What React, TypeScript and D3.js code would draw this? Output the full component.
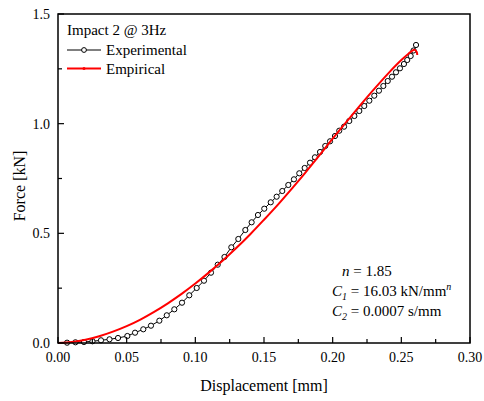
import React from "react";
import * as d3 from "d3";

const expX = [0.0066,0.0127,0.0189,0.0251,0.0313,0.0375,0.0437,0.0505,0.0561,0.0621,0.0677,0.0738,0.0792,0.0847,0.0903,0.0956,0.1010,0.1063,0.1114,0.1163,0.1212,0.1262,0.1313,0.1364,0.1410,0.1456,0.1502,0.1549,0.1592,0.1633,0.1677,0.1718,0.1757,0.1796,0.1835,0.1871,0.1908,0.1946,0.1981,0.2017,0.2048,0.2083,0.2121,0.2158,0.2194,0.2230,0.2267,0.2303,0.2337,0.2369,0.2401,0.2432,0.2461,0.2490,0.2519,0.2543,0.2568,0.2589,0.2607];
const expF = [0.0014,0.0032,0.0046,0.0078,0.0123,0.0169,0.0228,0.0319,0.0470,0.0625,0.0789,0.1017,0.1263,0.1536,0.1837,0.2175,0.2508,0.2840,0.3205,0.3570,0.3921,0.4363,0.4742,0.5152,0.5503,0.5836,0.6123,0.6415,0.6670,0.6930,0.7204,0.7463,0.7737,0.7979,0.8220,0.8467,0.8708,0.8982,0.9196,0.9438,0.9679,0.9862,1.0122,1.0350,1.0578,1.0805,1.1047,1.1275,1.1503,1.1717,1.1945,1.2141,1.2342,1.2524,1.2720,1.2903,1.3085,1.3336,1.3587];

const empX = [0,0.01,0.02,0.03,0.04,0.05,0.06,0.07,0.08,0.09,0.10,0.11,0.12,0.13,0.14,0.15,0.16,0.17,0.18,0.19,0.20,0.21,0.22,0.23,0.24,0.25,0.255,0.2595,0.2612,0.2616];
const empF = [0,0.005,0.015,0.031,0.052,0.077,0.107,0.142,0.181,0.224,0.271,0.322,0.376,0.434,0.496,0.562,0.630,0.702,0.776,0.853,0.932,1.008,1.083,1.156,1.226,1.290,1.318,1.337,1.327,1.313];

const xMajor = [0, 0.05, 0.1, 0.15, 0.2, 0.25, 0.3];
const xMinor = [0.025, 0.075, 0.125, 0.175, 0.225, 0.275];
const yMajor = [0, 0.5, 1.0, 1.5];
const yMinor = [0.25, 0.75, 1.25];

const W = 484, H = 401;
const L = 58, R = 470, T = 14, B = 343;
const font = "'Liberation Serif', 'Times New Roman', serif";

export default function App() {
  const x = d3.scaleLinear().domain([0, 0.3]).range([L, R]);
  const y = d3.scaleLinear().domain([0, 1.5]).range([B, T]);
  const expPts = expX.map((v, i) => [v, expF[i]] as [number, number]);
  const empPts = empX.map((v, i) => [v, empF[i]] as [number, number]);
  const lineLin = d3.line<[number, number]>().x(d => x(d[0])).y(d => y(d[1]));
  const lineCurve = d3.line<[number, number]>().x(d => x(d[0])).y(d => y(d[1])).curve(d3.curveCatmullRom);

  return (
    <svg width={W} height={H} style={{ position: "absolute", left: 0, top: 0 }} fontFamily={font}>
      <rect x={0} y={0} width={W} height={H} fill="#fff" />
      <path d={lineLin(expPts) || ""} fill="none" stroke="#000" strokeWidth={1} />
      {expPts.map((d, i) => (
        <circle key={i} cx={x(d[0])} cy={y(d[1])} r={2.6} fill="#fff" stroke="#000" strokeWidth={1} />
      ))}
      <path d={lineCurve(empPts) || ""} fill="none" stroke="#ff0000" strokeWidth={2} />
      <rect x={L} y={T} width={R - L} height={B - T} fill="none" stroke="#000" strokeWidth={1.5} />
      {xMajor.map((v, i) => (
        <g key={"xM" + i}>
          <line x1={x(v)} x2={x(v)} y1={B} y2={B - 6} stroke="#000" strokeWidth={1.2} />
          <text x={x(v)} y={362} fontSize={14} textAnchor="middle">{v.toFixed(2)}</text>
        </g>
      ))}
      {xMinor.map((v, i) => (
        <line key={"xm" + i} x1={x(v)} x2={x(v)} y1={B} y2={B - 4} stroke="#000" strokeWidth={1.2} />
      ))}
      {yMajor.map((v, i) => (
        <g key={"yM" + i}>
          <line x1={L} x2={L + 6} y1={y(v)} y2={y(v)} stroke="#000" strokeWidth={1.2} />
          <text x={50} y={y(v) + 5} fontSize={14} textAnchor="end">{v.toFixed(1)}</text>
        </g>
      ))}
      {yMinor.map((v, i) => (
        <line key={"ym" + i} x1={L} x2={L + 4} y1={y(v)} y2={y(v)} stroke="#000" strokeWidth={1.2} />
      ))}
      <text x={(L + R) / 2} y={391} fontSize={16} textAnchor="middle">Displacement [mm]</text>
      <text transform={`translate(25,186) rotate(-90)`} fontSize={16} textAnchor="middle">Force [kN]</text>
      <text x={67} y={35} fontSize={15}>Impact 2 @ 3Hz</text>
      <line x1={67} x2={101} y1={50} y2={50} stroke="#000" strokeWidth={1} />
      <circle cx={84} cy={50} r={2.4} fill="#fff" stroke="#000" strokeWidth={1} />
      <text x={106} y={55} fontSize={15}>Experimental</text>
      <line x1={67} x2={101} y1={68.5} y2={68.5} stroke="#ff0000" strokeWidth={2} />
      <circle cx={84} cy={68.5} r={1.5} fill="#ff0000" />
      <text x={106} y={73.5} fontSize={15}>Empirical</text>
      <text x={342} y={276} fontSize={15}>
        <tspan fontStyle="italic">n</tspan> = 1.85
      </text>
      <text x={332} y={296} fontSize={15}>
        <tspan fontStyle="italic">C</tspan>
        <tspan fontStyle="italic" fontSize={10} dy={4}>1</tspan>
        <tspan dy={-4}> = 16.03 kN/mm</tspan>
        <tspan fontStyle="italic" fontSize={10} dy={-6}>n</tspan>
      </text>
      <text x={332} y={316} fontSize={15}>
        <tspan fontStyle="italic">C</tspan>
        <tspan fontStyle="italic" fontSize={10} dy={4}>2</tspan>
        <tspan dy={-4}> = 0.0007 s/mm</tspan>
      </text>
    </svg>
  );
}
